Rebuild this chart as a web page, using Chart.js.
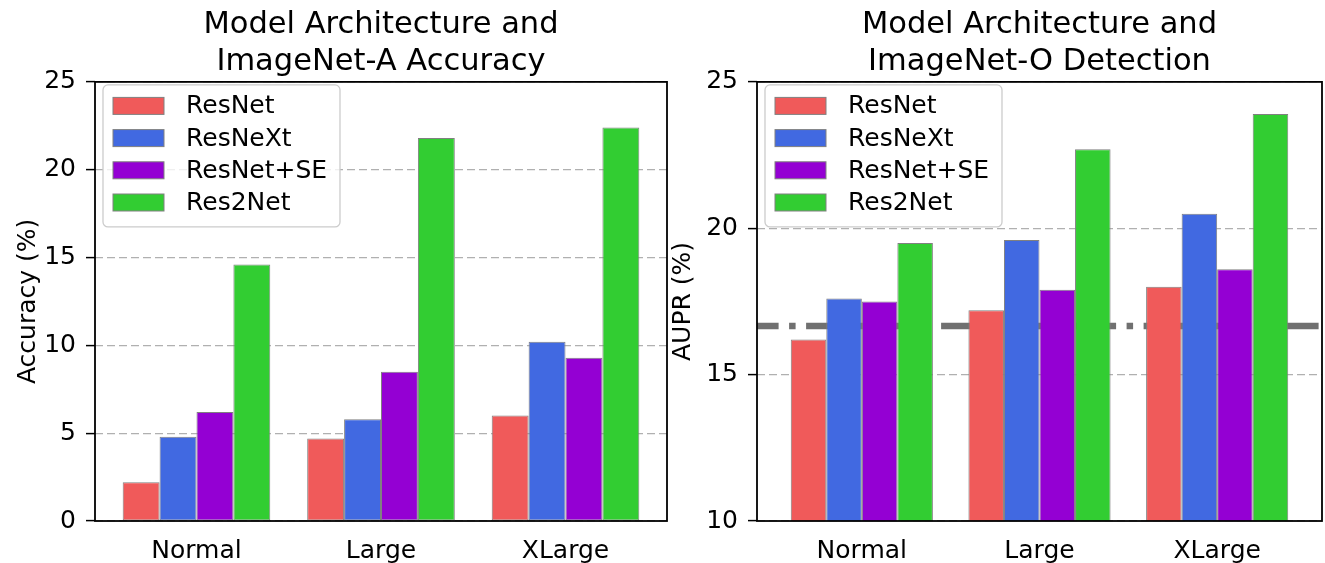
<!DOCTYPE html>
<html>
<head>
<meta charset="utf-8">
<script src="https://cdn.jsdelivr.net/npm/chart.js@4.4.0/dist/chart.umd.min.js"></script>
<style>
  html, body { margin: 0; padding: 0; background: #fff; }
  body { width: 1325px; height: 563px; position: relative; overflow: hidden; }
  canvas { position: absolute; top: 0; }
  #accChart { left: 0; }
  #auprChart { left: 665px; }
</style>
</head>
<body>
<canvas id="auprChart" width="660" height="563"></canvas>
<canvas id="accChart" width="680" height="563"></canvas>
<script>
const modelSizes = ['Normal', 'Large', 'XLarge'];
const architectures = ['ResNet', 'ResNeXt', 'ResNet+SE', 'Res2Net'];
const archColors = ['#F05A5A', '#4169E1', '#9400D3', '#32CD32'];

// ImageNet-A accuracy (%), one value per model size
const accResNet   = [2.2, 4.7, 6.0];
const accResNeXt  = [4.8, 5.8, 10.2];
const accResNetSE = [6.2, 8.5, 9.3];
const accRes2Net  = [14.6, 21.8, 22.4];
const accTicks = [0, 5, 10, 15, 20, 25];

// ImageNet-O AUPR (%), one value per model size
const auprResNet   = [16.2, 17.2, 18.0];
const auprResNeXt  = [17.6, 19.6, 20.5];
const auprResNetSE = [17.5, 17.9, 18.6];
const auprRes2Net  = [19.5, 22.7, 23.9];
const auprBaseline = 16.66;
const auprTicks = [10, 15, 20, 25];

const FONT = 'DejaVu Sans';
Chart.defaults.font.family = FONT;
Chart.defaults.color = '#000';

// matplotlib-like legend box inside the axes
const boxLegend = {
  id: 'boxLegend',
  beforeDatasetsDraw(chart) {
    const ctx = chart.ctx, a = chart.chartArea;
    const bars = chart.data.datasets.filter(d => d.type === 'bar');
    const x = a.left + 8, y = a.top + 3, w = 237, h = 142;
    ctx.save();
    ctx.beginPath();
    ctx.roundRect(x, y, w, h, 5);
    ctx.fillStyle = 'rgba(255,255,255,0.8)';
    ctx.fill();
    ctx.lineWidth = 1.3;
    ctx.strokeStyle = '#cccccc';
    ctx.stroke();
    ctx.font = '25px "' + FONT + '"';
    ctx.textBaseline = 'middle';
    bars.forEach((d, i) => {
      const cy = y + 21 + i * 32.2;
      ctx.fillStyle = d.backgroundColor;
      ctx.fillRect(x + 10, cy - 8.5, 51, 17);
      ctx.lineWidth = 1;
      ctx.strokeStyle = d.borderColor;
      ctx.strokeRect(x + 10, cy - 8.5, 51, 17);
      ctx.fillStyle = '#000';
      ctx.fillText(d.label, x + 83, cy + 1);
    });
    ctx.restore();
  }
};

// full box of spines
const frame = {
  id: 'frame',
  afterDatasetsDraw(chart) {
    const ctx = chart.ctx, a = chart.chartArea;
    ctx.save();
    ctx.lineWidth = 1.8;
    ctx.strokeStyle = '#000';
    ctx.strokeRect(a.left, a.top, a.right - a.left, a.bottom - a.top);
    ctx.restore();
  }
};

function buildChart(id, cfg) {
  const datasets = architectures.map((name, i) => ({
    type: 'bar',
    label: name,
    data: modelSizes.map((_, j) => ({ x: j, y: cfg.series[i][j] })),
    backgroundColor: archColors[i],
    borderColor: '#808080',
    borderWidth: 1,
    borderSkipped: false,
    categoryPercentage: 0.8,
    barPercentage: 1.0,
    order: 1
  }));
  if (cfg.baseline !== undefined) {
    datasets.push({
      type: 'line',
      label: 'baseline',
      data: [{ x: cfg.xLimits[0], y: cfg.baseline }, { x: cfg.xLimits[1], y: cfg.baseline }],
      borderColor: '#707070',
      borderWidth: 6.5,
      borderDash: [40, 10.5, 6.5, 10.5],
      borderDashOffset: 18.4,
      borderCapStyle: 'butt',
      pointRadius: 0,
      order: 2
    });
  }
  const tickFont = { family: FONT, size: 25 };
  return new Chart(document.getElementById(id), {
    data: { datasets },
    options: {
      responsive: false,
      animation: false,
      layout: { padding: cfg.padding },
      plugins: {
        legend: { display: false },
        tooltip: { enabled: false },
        title: {
          display: true,
          text: cfg.title,
          fullSize: false,
          color: '#000',
          font: { family: FONT, size: 30.5, weight: 'normal', lineHeight: 1.2 },
          padding: { top: 6.7, bottom: 2 }
        }
      },
      scales: {
        x: {
          type: 'linear',
          min: cfg.xLimits[0],
          max: cfg.xLimits[1],
          offset: false,
          grid: { display: false, drawTicks: false, offset: false },
          border: { display: false },
          afterBuildTicks: s => { s.ticks = modelSizes.map((_, i) => ({ value: i })); },
          ticks: { callback: v => modelSizes[v], font: tickFont, color: '#000', padding: 15, maxRotation: 0, autoSkip: false },
          afterFit: s => { s.height = 42; }
        },
        y: {
          type: 'linear',
          min: cfg.yTicks[0],
          max: cfg.yTicks[cfg.yTicks.length - 1],
          afterBuildTicks: s => { s.ticks = cfg.yTicks.map(v => ({ value: v })); },
          grid: { color: '#b0b0b0', lineWidth: 1.2, tickColor: '#000', tickWidth: 1.5, tickLength: 9 },
          border: { display: false, dash: [8, 4] },
          ticks: { font: tickFont, color: '#000', padding: 10 },
          title: { display: true, text: cfg.yTitle, font: tickFont, color: '#000', padding: { top: cfg.yTitlePad, bottom: 0 } },
          afterFit: s => { s.width = cfg.yAxisWidth; }
        }
      }
    },
    plugins: [boxLegend, frame]
  });
}

buildChart('accChart', {
  title: ['Model Architecture and', 'ImageNet-A Accuracy'],
  yTitle: 'Accuracy (%)',
  series: [accResNet, accResNeXt, accResNetSE, accRes2Net],
  yTicks: accTicks,
  xLimits: [-0.55, 2.55],
  padding: { left: 9, right: 13, top: 0, bottom: 0 },
  yTitlePad: 4,
  yAxisWidth: 86
});

buildChart('auprChart', {
  title: ['Model Architecture and', 'ImageNet-O Detection'],
  yTitle: 'AUPR (%)',
  series: [auprResNet, auprResNeXt, auprResNetSE, auprRes2Net],
  baseline: auprBaseline,
  yTicks: auprTicks,
  xLimits: [-0.59, 2.59],
  padding: { left: 1, right: 3, top: 0, bottom: 0 },
  yTitlePad: 2,
  yAxisWidth: 91
});
</script>
</body>
</html>
